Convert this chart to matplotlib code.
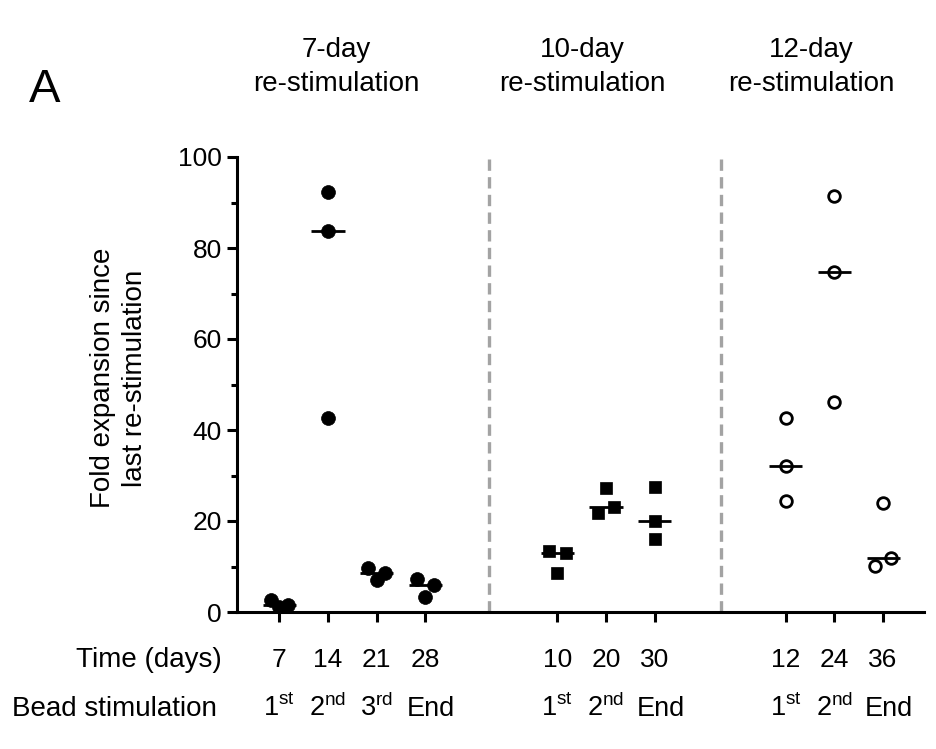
import numpy as np
import matplotlib
matplotlib.use("Agg")
import matplotlib.pyplot as plt
from matplotlib import transforms

plt.rcParams['font.family'] = ['Liberation Sans', 'DejaVu Sans']
plt.rcParams['mathtext.fontset'] = 'custom'
plt.rcParams['mathtext.rm'] = 'Liberation Sans'
plt.rcParams['mathtext.it'] = 'Liberation Sans:italic'

# data (fold expansion per re-stimulation interval, three donors each)
groups = ['7-day\nre-stimulation', '10-day\nre-stimulation', '12-day\nre-stimulation']
days = [[7, 14, 21, 28], [10, 20, 30], [12, 24, 36]]
beads = [['1st', '2nd', '3rd', 'End'], ['1st', '2nd', 'End'], ['1st', '2nd', 'End']]
vals_7 = [[2.6, 1.0, 1.5], [92.2, 83.7, 42.6], [9.6, 7.0, 8.5], [7.2, 3.4, 5.9]]
vals_10 = [[13.4, 8.6, 12.9], [21.7, 27.2, 23.0], [27.5, 20.1, 16.1]]
vals_12 = [[42.6, 32.1, 24.4], [91.4, 74.8, 46.1], [10.1, 23.9, 11.9]]
values = [vals_7, vals_10, vals_12]

# layout
group_start = [1.0, 6.71, 11.40]
dividers = [5.31, 10.07]
title_x = [2.165, 7.226, 11.917]
markers = [dict(marker='o', ms=10.0, mfc='black', mec='black', mew=0.5),
           dict(marker='s', ms=9.0, mfc='black', mec='black', mew=0.5),
           dict(marker='o', ms=8.4, mfc='white', mec='black', mew=2.0)]

fig = plt.figure(figsize=(9.36, 7.49), dpi=100)
ax = fig.add_axes([237/936, 137/749, 687/936, 455/749])

tick_pos = []
tick_lab = []
bead_pos = []
bead_lab = []
for g in range(3):
    for i, v in enumerate(values[g]):
        x0 = group_start[g] + i
        v = np.array(v)
        gaps = np.abs(v[:, None] - v[None, :])[np.triu_indices(3, 1)]
        off = 0.17 if gaps.min() < 2.7 else 0.0
        xs = x0 + np.array([-off, 0.0, off])
        ax.plot(xs, v, linestyle='none', zorder=3, **markers[g])
        m = np.median(v)
        ax.plot([x0 - 0.34, x0 + 0.34], [m, m], color='black', lw=2.0, zorder=4,
                solid_capstyle='butt')
        tick_pos.append(x0)
        tick_lab.append(str(days[g][i]))
        bead_pos.append(x0)
        bead_lab.append(beads[g][i])

for d in dividers:
    ax.axvline(d, color='#a3a3a3', lw=2.4, dashes=(3.4, 1.9), zorder=1)

ax.set_xlim(0.131, 14.24)
ax.set_ylim(0, 100)
ax.spines['top'].set_visible(False)
ax.spines['right'].set_visible(False)
for s in ['left', 'bottom']:
    ax.spines[s].set_linewidth(2.2)

ax.set_yticks(np.arange(0, 101, 20))
ax.set_yticks(np.arange(10, 100, 20), minor=True)
ax.tick_params(axis='y', which='major', length=7.2, width=2.2, pad=3.6, labelsize=19)
ax.tick_params(axis='y', which='minor', length=4.3, width=2.2)
ax.set_xticks(tick_pos)
ax.set_xticklabels(tick_lab)
ax.tick_params(axis='x', length=7.2, width=2.2, pad=18.5, labelsize=19)

# bead stimulation row with superscripts
trans = transforms.blended_transform_factory(ax.transData, fig.transFigure)
for x, b in zip(bead_pos, bead_lab):
    if b == 'End':
        s = 'End'
        x = x + 0.12
    else:
        s = b[0] + r'$^{\mathrm{' + b[1:] + '}}$'
    ax.text(x, 1 - 716/749, s, transform=trans, ha='center', va='baseline', fontsize=19.5)

fig.text(222/936, 1 - 667/749, 'Time (days)', ha='right', va='baseline', fontsize=20)
fig.text(217/936, 1 - 716/749, 'Bead stimulation', ha='right', va='baseline', fontsize=20)

# group titles
for x, t in zip(title_x, groups):
    l1, l2 = t.split('\n')
    ax.text(x, 1 - 57/749, l1, transform=trans, ha='center', va='baseline', fontsize=20)
    ax.text(x, 1 - 91/749, l2, transform=trans, ha='center', va='baseline', fontsize=20)

fig.text(29/936, 1 - 102/749, 'A', ha='left', va='baseline', fontsize=34)

fig.text(119/936, 1 - 378/749, 'Fold expansion since\nlast re-stimulation', rotation=90,
         ha='center', va='center', fontsize=20, linespacing=1.25)

fig.savefig('out.png', dpi=100)
